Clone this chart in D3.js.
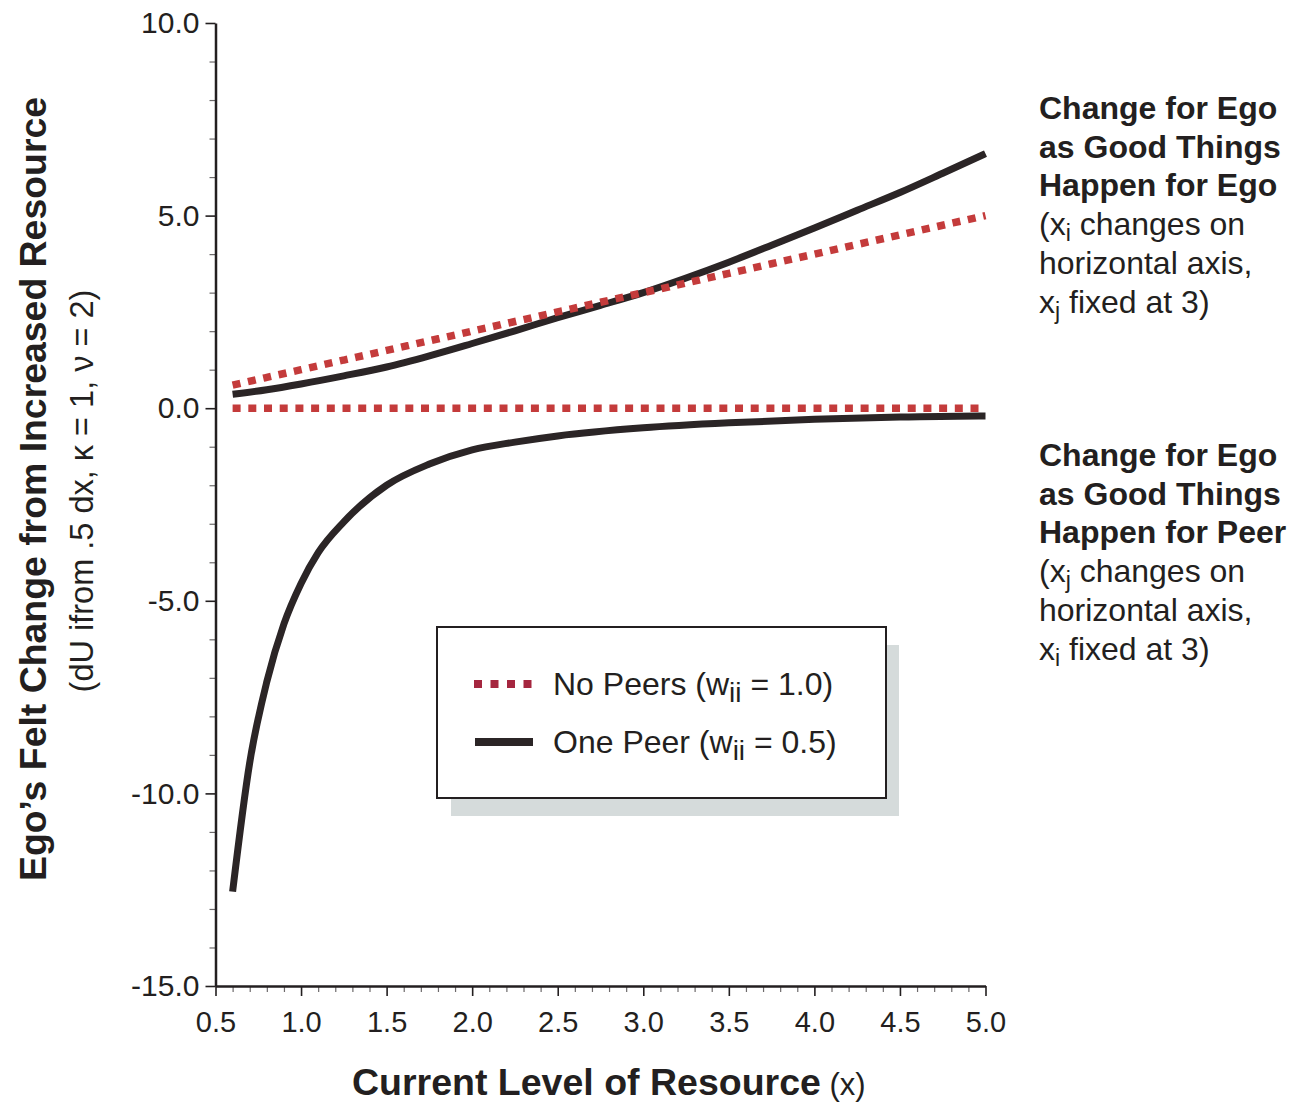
<!DOCTYPE html>
<html>
<head>
<meta charset="utf-8">
<script src="https://cdn.jsdelivr.net/npm/d3@7"></script>
<style>
  html, body { margin: 0; padding: 0; background: #fff; }
  svg { display: block; font-family: "Liberation Sans", Arial, Helvetica, sans-serif; }
</style>
</head>
<body>
<svg id="chart" width="1305" height="1102"></svg>
<script>
// ---- data ----
// Change for ego as good things happen for ego (x_i varies, x_j = 3)
const egoX = [0.6, 0.8, 1.0, 1.25, 1.5, 1.75, 2.0, 2.25, 2.5, 2.75, 3.0, 3.25, 3.5, 3.75, 4.0, 4.25, 4.5, 4.75, 5.0];
const egoNoPeers = [0.6, 0.8, 1.0, 1.25, 1.5, 1.75, 2.0, 2.25, 2.5, 2.75, 3.0, 3.25, 3.5, 3.75, 4.0, 4.25, 4.5, 4.75, 5.0];
const egoOnePeer = [0.36, 0.48, 0.63, 0.84, 1.07, 1.36, 1.68, 2.01, 2.35, 2.67, 3.0, 3.38, 3.79, 4.23, 4.68, 5.14, 5.6, 6.1, 6.61];

// Change for ego as good things happen for peer (x_j varies, x_i = 3)
const peerX = [0.6, 0.7, 0.8, 0.9, 1.0, 1.1, 1.25, 1.5, 1.75, 2.0, 2.25, 2.5, 3.0, 3.5, 4.0, 4.5, 4.96, 5.0];
const peerNoPeers = [0, 0, 0, 0, 0, 0, 0, 0, 0, 0, 0, 0, 0, 0, 0, 0, 0, null];
const peerOnePeer = [-12.55, -9.2, -7.1, -5.6, -4.55, -3.75, -2.95, -2.0, -1.45, -1.08, -0.88, -0.72, -0.51, -0.38, -0.29, -0.23, -0.2, -0.2];

const xTickValues = [0.5, 1.0, 1.5, 2.0, 2.5, 3.0, 3.5, 4.0, 4.5, 5.0];
const xTickLabels = ["0.5", "1.0", "1.5", "2.0", "2.5", "3.0", "3.5", "4.0", "4.5", "5.0"];
const yTickValues = [-15, -10, -5, 0, 5, 10];
const yTickLabels = ["-15.0", "-10.0", "-5.0", "0.0", "5.0", "10.0"];

const legendLabels = [
  { pre: "No Peers (w", sub: "ii", post: " = 1.0)", kind: "none" },
  { pre: "One Peer (w", sub: "ii", post: " = 0.5)", kind: "one" }
];

// ---- styles ----
const INK = "#231f20";
const RED = "#c43b3b";
const RED_KEY = "#a5263f";
const BLACK = "#2b2526";

const svg = d3.select("#chart");

const x = d3.scaleLinear().domain([0.5, 5.0]).range([215.5, 985.5]);
const y = d3.scaleLinear().domain([-15, 10]).range([986, 23]);

// ---- axes ----
const minorY = d3.range(-15, 10.01, 1).filter(v => v % 5 !== 0);
const minorX = d3.range(5, 51, 1).map(v => v / 10).filter(v => Math.round(v * 10) % 5 !== 0);

// minor ticks
svg.append("g")
  .attr("transform", `translate(${x(0.5)},0)`)
  .call(d3.axisLeft(y).tickValues(minorY).tickSize(6).tickSizeOuter(0).tickFormat(""))
  .call(g => g.select(".domain").remove())
  .call(g => g.selectAll("line").attr("stroke", "#6d6a6b").attr("stroke-width", 1.2));

svg.append("g")
  .attr("transform", `translate(0,${y(-15)})`)
  .call(d3.axisBottom(x).tickValues(minorX).tickSize(6).tickSizeOuter(0).tickFormat(""))
  .call(g => g.select(".domain").remove())
  .call(g => g.selectAll("line").attr("stroke", "#6d6a6b").attr("stroke-width", 1.2));

// major ticks + labels
const yAxis = svg.append("g")
  .attr("transform", `translate(${x(0.5)},0)`)
  .call(d3.axisLeft(y).tickValues(yTickValues).tickSize(10).tickPadding(6).tickSizeOuter(0)
    .tickFormat((d, i) => yTickLabels[i]));
yAxis.select(".domain").attr("stroke", INK).attr("stroke-width", 2.5);
yAxis.selectAll(".tick line").attr("stroke", INK).attr("stroke-width", 1.6);
yAxis.selectAll(".tick text").attr("fill", INK).style("font-size", "30px")
  .attr("font-family", "Liberation Sans, Arial, sans-serif");

const xAxis = svg.append("g")
  .attr("transform", `translate(0,${y(-15)})`)
  .call(d3.axisBottom(x).tickValues(xTickValues).tickSize(10).tickPadding(15).tickSizeOuter(0)
    .tickFormat((d, i) => xTickLabels[i]));
xAxis.select(".domain").attr("stroke", INK).attr("stroke-width", 2.5);
xAxis.selectAll(".tick line").attr("stroke", INK).attr("stroke-width", 1.6);
xAxis.selectAll(".tick text").attr("fill", INK).style("font-size", "29px")
  .attr("font-family", "Liberation Sans, Arial, sans-serif");

// ---- lines ----
const line = d3.line()
  .defined(d => d[1] !== null)
  .curve(d3.curveMonotoneX)
  .x(d => x(d[0])).y(d => y(d[1]));

const zip = (xs, ys) => xs.map((v, i) => [v, ys[i]]);

const plot = svg.append("g");

function dotted(data) {
  plot.append("path").datum(data)
    .attr("d", line)
    .attr("fill", "none")
    .attr("stroke", RED)
    .attr("stroke-width", 7.5)
    .attr("stroke-dasharray", "8,7.7");
}
function solid(data) {
  plot.append("path").datum(data)
    .attr("d", line)
    .attr("fill", "none")
    .attr("stroke", BLACK)
    .attr("stroke-width", 7);
}

solid(zip(egoX, egoOnePeer));
solid(zip(peerX, peerOnePeer));
dotted(zip(egoX, egoNoPeers));
dotted(zip(peerX, peerNoPeers));

// ---- legend ----
const legend = svg.append("g");
legend.append("rect")
  .attr("x", 451).attr("y", 645).attr("width", 448).attr("height", 171)
  .attr("fill", "#d5dbdb");
legend.append("rect")
  .attr("x", 437).attr("y", 627).attr("width", 449).attr("height", 171)
  .attr("fill", "#fff").attr("stroke", INK).attr("stroke-width", 2);

legendLabels.forEach((d, i) => {
  const cy = 684 + i * 58;
  if (d.kind === "none") {
    legend.append("line")
      .attr("x1", 474).attr("x2", 532).attr("y1", cy).attr("y2", cy)
      .attr("stroke", RED_KEY).attr("stroke-width", 8)
      .attr("stroke-dasharray", "8,8.5");
  } else {
    legend.append("line")
      .attr("x1", 475).attr("x2", 533).attr("y1", cy).attr("y2", cy)
      .attr("stroke", BLACK).attr("stroke-width", 8);
  }
  const t = legend.append("text")
    .attr("x", 553).attr("y", cy + 11)
    .attr("fill", INK).style("font-size", "32px");
  t.append("tspan").text(d.pre);
  t.append("tspan").attr("dy", 7).style("font-size", "28px").text(d.sub);
  t.append("tspan").attr("dy", -7).text(d.post);
});

// ---- side annotations ----
function annotation(top, boldLines, regLines) {
  const g = svg.append("g");
  const lh = 38.7;
  boldLines.forEach((s, i) => {
    g.append("text").attr("x", 1039).attr("y", top + i * lh)
      .attr("fill", INK).style("font-size", "32px").style("font-weight", "bold").text(s);
  });
  regLines.forEach((parts, i) => {
    const t = g.append("text").attr("x", 1039).attr("y", top + (boldLines.length + i) * lh)
      .attr("fill", INK).style("font-size", "32px");
    let shift = 0;
    parts.forEach(p => {
      if (p.sub) {
        t.append("tspan").attr("dy", 6 - shift).style("font-size", "23px").text(p.sub);
        shift = 6;
      } else {
        t.append("tspan").attr("dy", -shift).text(p.t);
        shift = 0;
      }
    });
  });
}

annotation(119,
  ["Change for Ego", "as Good Things", "Happen for Ego"],
  [[{ t: "(x" }, { sub: "i" }, { t: " changes on" }],
   [{ t: "horizontal axis," }],
   [{ t: "x" }, { sub: "j" }, { t: " fixed at 3)" }]]);

annotation(466,
  ["Change for Ego", "as Good Things", "Happen for Peer"],
  [[{ t: "(x" }, { sub: "j" }, { t: " changes on" }],
   [{ t: "horizontal axis," }],
   [{ t: "x" }, { sub: "i" }, { t: " fixed at 3)" }]]);

// ---- axis titles ----
const xt = svg.append("text").attr("x", 352).attr("y", 1095).attr("fill", INK);
xt.append("tspan").style("font-size", "37.5px").style("font-weight", "bold").text("Current Level of Resource");
xt.append("tspan").style("font-size", "31px").text(" (x)");

svg.append("text")
  .attr("transform", "translate(46,489) rotate(-90)")
  .attr("text-anchor", "middle")
  .attr("fill", INK)
  .style("font-size", "37.4px").style("font-weight", "bold")
  .text("Ego\u2019s Felt Change from Increased Resource");

svg.append("text")
  .attr("transform", "translate(93,491) rotate(-90)")
  .attr("text-anchor", "middle")
  .attr("fill", INK)
  .style("font-size", "32.5px")
  .text("(dU ifrom .5 dx, \u03BA = 1, \u03BD = 2)");
</script>
</body>
</html>
